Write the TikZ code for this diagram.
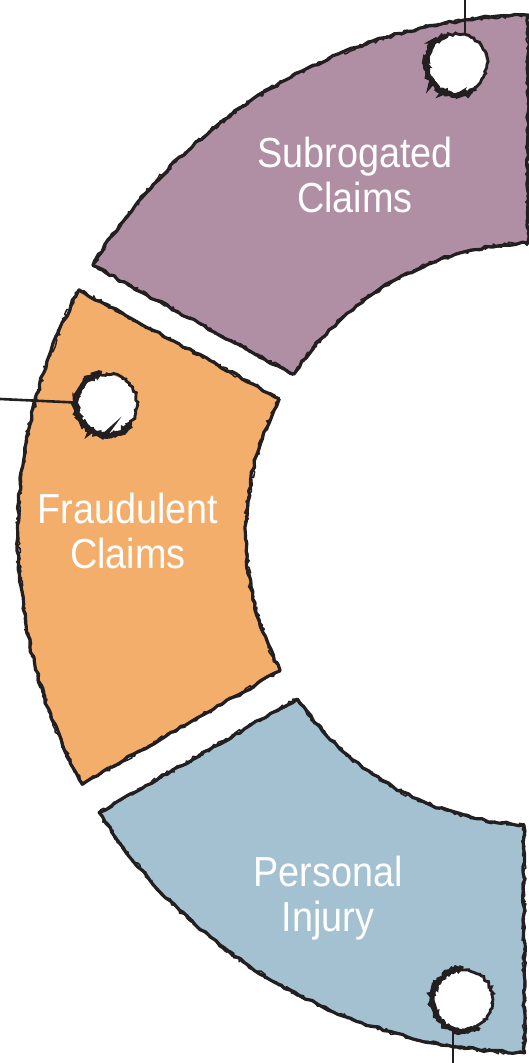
\documentclass[tikz,border=0pt]{standalone}
\usepackage{fontspec}
\newfontfamily\labfont[FakeStretch=0.9]{Liberation Sans}
\usetikzlibrary{calc,decorations.pathmorphing}
\definecolor{segpurple}{RGB}{176,143,164}
\definecolor{segorange}{RGB}{244,174,107}
\definecolor{segblue}{RGB}{163,193,209}
\definecolor{ink}{RGB}{35,31,32}
\tikzset{
  rough/.style={draw=ink, line width=3.2pt, line join=round, decorate,
    decoration={random steps, segment length=6pt, amplitude=1.3pt}},
  roughthin/.style={draw=ink, line width=1.5pt, line join=round, decorate,
    decoration={random steps, segment length=3pt, amplitude=2.2pt}},
  seglabel/.style={text=white, align=center, inner sep=0pt,
    font=\labfont\fontsize{42}{45}\selectfont},
  hole/.style={circle, fill=white, minimum size=58pt, inner sep=0pt},
  holering/.style={draw=ink, line width=2.8pt, decorate,
    decoration={random steps, segment length=2.5pt, amplitude=1.4pt}},
  holeshade/.style={draw=ink, line width=5pt, decorate,
    decoration={random steps, segment length=2pt, amplitude=1.8pt}},
  wire/.style={draw=ink, line width=2.6pt},
}
\begin{document}
\begin{tikzpicture}[x=1pt,y=1pt]
\useasboundingbox (0,-1063) rectangle (529,0);
\clip (0,-1063) rectangle (529,0);
\pgfmathsetseed{7}
\coordinate (C) at (537,-534);

% purple segment
\path[fill=segpurple, postaction={rough}, postaction={roughthin}]
  ($(C)+(146.77:291)$) -- ($(C)+(148.85:519)$)
  arc[start angle=148.85, end angle=91, radius=519]
  -- ($(C)+(91.8:291)$)
  arc[start angle=91.8, end angle=146.77, radius=291] -- cycle;

% orange segment
\path[fill=segorange, postaction={rough}, postaction={roughthin}]
  ($(C)+(152.29:291)$) -- ($(C)+(151.94:519)$)
  arc[start angle=151.94, end angle=208.8, radius=519]
  -- ($(C)+(208.03:291)$)
  arc[start angle=208.03, end angle=152.29, radius=291] -- cycle;

% blue segment
\path[fill=segblue, postaction={rough}, postaction={roughthin}]
  ($(C)+(214.53:291)$) -- ($(C)+(212.45:519)$)
  arc[start angle=212.45, end angle=268.6, radius=519]
  -- ($(C)+(267.4:291)$)
  arc[start angle=267.4, end angle=214.53, radius=291] -- cycle;

% labels
\node[seglabel] (subro) at (355,-175) {Subrogated\\Claims};
\node[seglabel] (fraud) at (128,-531) {Fraudulent\\Claims};
\node[seglabel] (injury) at (328,-898) {Personal\\Injury};

% holes
\node[hole] (h1) at (457,-64) {};
\node[hole] (h2) at (107,-404) {};
\node[hole] (h3) at (463,-1000) {};

% wires
\coordinate (t1) at (465,0);
\coordinate (t2) at (0,-399);
\coordinate (t3) at (453,-1063);
\draw[wire] (t1) -- (t1 |- h1.north);
\draw[wire] (t2) -- (h2);
\draw[wire] (t3) -- (t3 |- h3.south);

% rough hole rings
\draw[holering] (h1.center) circle[radius=30];
\draw[holeshade] ($(h1.center)+(110:31)$) arc[start angle=110, end angle=300, radius=31];
\draw[holering] (h2.center) circle[radius=30];
\draw[holeshade] ($(h2.center)+(100:31)$) arc[start angle=100, end angle=320, radius=31];
\draw[holering] (h3.center) circle[radius=30];
\draw[holeshade] ($(h3.center)+(90:31)$) arc[start angle=90, end angle=300, radius=31];
\end{tikzpicture}
\end{document}
